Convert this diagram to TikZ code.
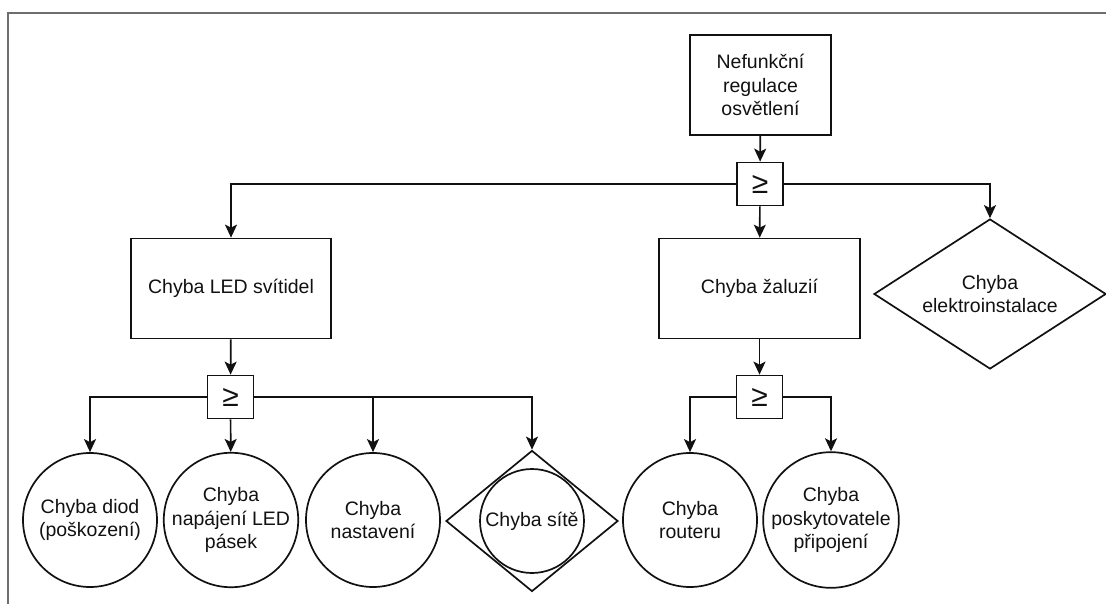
\documentclass[tikz,border=0pt]{standalone}
\usepackage{fontspec}
\setmainfont{Liberation Sans}
\usetikzlibrary{shapes.geometric,arrows.meta}
\definecolor{ink}{HTML}{111111}
\definecolor{framegray}{HTML}{6E6E6E}
\begin{document}
\begin{tikzpicture}[x=1pt,y=-1pt,
  every node/.style={font=\fontsize{19.5}{23.4}\selectfont, text=ink, align=center, inner sep=0pt},
  box/.style={draw=ink, line width=1.7pt, rectangle, minimum width=200pt, minimum height=100pt},
  gate/.style={draw=ink, line width=1.7pt, rectangle, minimum width=46pt, minimum height=43pt,
    font=\fontsize{30}{30}\selectfont},
  event/.style={draw=ink, line width=1.7pt, circle, minimum size=134pt},
  undev/.style={draw=ink, line width=1.7pt, diamond, shape aspect=1.55},
  link/.style={draw=ink, line width=1.7pt, -{Stealth[length=13pt,width=12pt,inset=3pt]}},
  wire/.style={draw=ink, line width=1.7pt}]
\useasboundingbox (0,0) rectangle (1106,604);
% page frame
\draw[framegray, line width=2pt] (1106,13) -- (8,13) -- (8,604);

% top event and first gate
\node[box, minimum width=141pt] (top) at (760.5,85) {Nefunkční\\regulace\\osvětlení};
\node[gate] (g1) at (760,184) {≥};

% second level
\node[box] (led) at (231,288.5) {Chyba LED svítidel};
\node[box, minimum width=201pt] (zal) at (759.5,288.5) {Chyba žaluzií};
\node[undev, minimum width=232pt, minimum height=150pt] (ele) at (990,294) {Chyba\\elektroinstalace};

% gates below
\node[gate] (g2) at (230.5,397) {≥};
\node[gate] (g3) at (759.5,397) {≥};

% basic events
\node[event] (c1) at (90,520) {Chyba diod\\(poškození)};
\node[event] (c2) at (231,520) {Chyba\\napájení LED\\pásek};
\node[event] (c3) at (373,520) {Chyba\\nastavení};
\node[undev, minimum width=172pt, minimum height=141pt] (d4) at (532,521) {};
\node[draw=ink, line width=1.7pt, circle, minimum size=104pt] (d4c) at (532,521) {Chyba sítě};
\node[event] (c5) at (690,520) {Chyba\\routeru};
\node[event] (c6) at (831,520) {Chyba\\poskytovatele\\připojení};

% connectors
\draw[link] (top) -- (g1);
\draw[link] (g1.west) -| (led.north);
\draw[link] (g1) -- (zal);
\draw[link] (g1.east) -| (ele.north);
\draw[link] (led) -- (g2);
\draw[link] (g2.west) -| (c1.north);
\draw[link] (g2) -- (c2);
\draw[link] (g2.east) -| (c3.north);
\draw[link] (g2.east) -| (d4.north);
\draw[link] (zal) -- (g3);
\draw[link] (g3.west) -| (c5.north);
\draw[link] (g3.east) -| (c6.north);
\end{tikzpicture}
\end{document}
